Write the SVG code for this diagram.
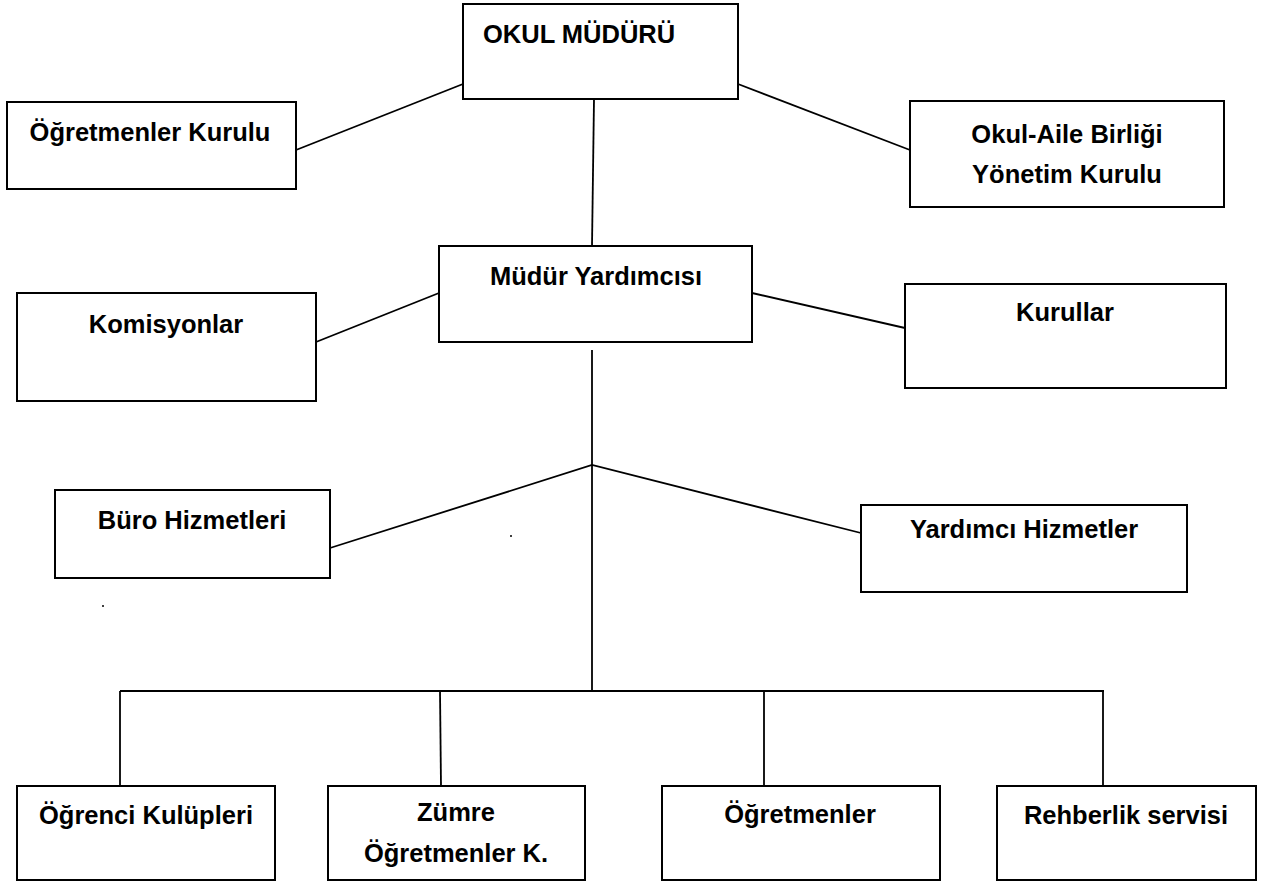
<svg xmlns="http://www.w3.org/2000/svg" width="1262" height="881" viewBox="0 0 1262 881">
<style>
.box{fill:#fff;stroke:#000;stroke-width:2}
.t{font-family:"Liberation Sans",Arial,sans-serif;font-weight:bold;font-size:25.5px;fill:#000;text-anchor:middle}
.c line,.c polyline{stroke:#000;stroke-width:1.8;fill:none}
</style>
<rect width="1262" height="881" fill="#fff"/>
<g class="c" id="connectors">
<line x1="296" y1="150" x2="463" y2="84"/>
<line x1="738" y1="84" x2="910" y2="150"/>
<line x1="594" y1="99" x2="592" y2="246"/>
<line x1="439" y1="293" x2="316" y2="342"/>
<line x1="752" y1="293" x2="905" y2="328"/>
<line x1="592" y1="350" x2="592" y2="691"/>
<polyline points="330,548 592,465 861,533"/>
<line x1="120" y1="691" x2="1104" y2="691"/>
<line x1="120" y1="691" x2="120" y2="786"/>
<line x1="440" y1="691" x2="441" y2="786"/>
<line x1="764" y1="691" x2="764" y2="786"/>
<line x1="1103" y1="691" x2="1103" y2="786"/>
</g>
<g id="okul-muduru"><rect class="box" x="463" y="4" width="275" height="95"/><text class="t" x="483" y="43" style="text-anchor:start">OKUL MÜDÜRÜ</text></g>
<g id="ogretmenler-kurulu"><rect class="box" x="7" y="102" width="289" height="87"/><text class="t" x="150" y="141">Öğretmenler Kurulu</text></g>
<g id="okul-aile"><rect class="box" x="910" y="101" width="314" height="106"/><text class="t" x="1067" y="143">Okul-Aile Birliği</text><text class="t" x="1067" y="183">Yönetim Kurulu</text></g>
<g id="mudur-yardimcisi"><rect class="box" x="439" y="246" width="313" height="96"/><text class="t" x="596" y="285">Müdür Yardımcısı</text></g>
<g id="komisyonlar"><rect class="box" x="17" y="293" width="299" height="108"/><text class="t" x="166" y="333">Komisyonlar</text></g>
<g id="kurullar"><rect class="box" x="905" y="284" width="321" height="104"/><text class="t" x="1065" y="321">Kurullar</text></g>
<g id="buro"><rect class="box" x="55" y="490" width="275" height="88"/><text class="t" x="192" y="529">Büro Hizmetleri</text></g>
<g id="yardimci"><rect class="box" x="861" y="505" width="326" height="87"/><text class="t" x="1024" y="538">Yardımcı Hizmetler</text></g>
<g id="dots"><circle cx="511" cy="536" r="1" fill="#000"/><circle cx="103" cy="606" r="1" fill="#000"/></g>
<g id="ogrenci-kulupleri"><rect class="box" x="17" y="786" width="258" height="94"/><text class="t" x="146" y="824">Öğrenci Kulüpleri</text></g>
<g id="zumre"><rect class="box" x="328" y="786" width="257" height="94"/><text class="t" x="456" y="821">Zümre</text><text class="t" x="456" y="862">Öğretmenler K.</text></g>
<g id="ogretmenler"><rect class="box" x="662" y="786" width="278" height="94"/><text class="t" x="800" y="823">Öğretmenler</text></g>
<g id="rehberlik"><rect class="box" x="997" y="786" width="259" height="94"/><text class="t" x="1126" y="824">Rehberlik servisi</text></g>
</svg>
